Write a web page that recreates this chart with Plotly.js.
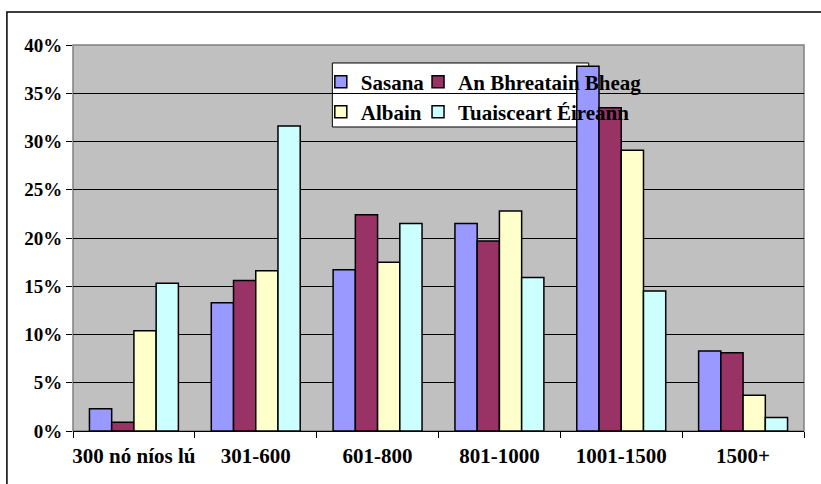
<!DOCTYPE html>
<html>
<head>
<meta charset="utf-8">
<script src="https://cdn.plot.ly/plotly-3.0.1.min.js"></script>
<style>html,body{margin:0;padding:0;background:#fff;}</style>
</head>
<body>
<div id="chart" style="width:821px;height:484px;"></div>
<script>
var categories = ['300 nó níos lú', '301-600', '601-800', '801-1000', '1001-1500', '1500+'];
var sasana = [2.3, 13.3, 16.7, 21.5, 37.8, 8.3];
var anBhreatainBheag = [0.9, 15.6, 22.4, 19.7, 33.5, 8.1];
var albain = [10.4, 16.6, 17.5, 22.8, 29.1, 3.7];
var tuaisceartEireann = [15.3, 31.6, 21.5, 15.9, 14.5, 1.4];
var yTicks = [0, 5, 10, 15, 20, 25, 30, 35, 40];

var names = ['Sasana', 'An Bhreatain Bheag', 'Albain', 'Tuaisceart Éireann'];
var colors = ['#9999FF', '#993366', '#FFFFCC', '#CCFFFF'];
var series = [sasana, anBhreatainBheag, albain, tuaisceartEireann];
var legendIds = ['legend', 'legend2', 'legend3', 'legend4'];

var font = '"Times New Roman", "Liberation Serif", serif';

var traces = series.map(function (vals, i) {
  return {
    type: 'bar',
    name: names[i],
    x: categories,
    y: vals,
    legend: legendIds[i],
    marker: {color: colors[i], line: {color: '#000000', width: 1.5}},
    hovertemplate: '%{x}: %{y}%<extra>' + names[i] + '</extra>'
  };
});

function legendAt(x, y) {
  return {
    orientation: 'h',
    xref: 'paper', yref: 'paper',
    x: x, y: y,
    xanchor: 'left', yanchor: 'middle',
    bgcolor: 'rgba(0,0,0,0)',
    borderwidth: 0,
    font: {family: font, size: 21, color: '#000000', weight: 'bold'},
    itemclick: false, itemdoubleclick: false
  };
}

var layout = {
  width: 821, height: 484,
  margin: {l: 73, r: 17, t: 45, b: 53},
  paper_bgcolor: '#ffffff',
  plot_bgcolor: '#C0C0C0',
  barmode: 'group',
  bargap: 0.27,
  bargroupgap: 0,
  showlegend: true,
  legend: legendAt(0.339, 0.904),
  legend2: legendAt(0.472, 0.904),
  legend3: legendAt(0.339, 0.826),
  legend4: legendAt(0.472, 0.826),
  xaxis: {
    type: 'category',
    tickson: 'boundaries',
    tickangle: 0,
    ticks: 'outside', ticklen: 6, tickcolor: '#000000', tickwidth: 1,
    showline: true, linecolor: '#000000', linewidth: 1,
    showgrid: false,
    ticklabelstandoff: 6,
    tickfont: {family: font, size: 21, color: '#000000', weight: 'bold'}
  },
  yaxis: {
    range: [0, 40],
    tickvals: yTicks,
    ticktext: yTicks.map(function (v) { return v + '%'; }),
    ticks: 'outside', ticklen: 6, tickcolor: '#000000', tickwidth: 1,
    showline: false,
    showgrid: true, gridcolor: '#000000', gridwidth: 1,
    zeroline: false,
    tickfont: {family: font, size: 19, color: '#000000', weight: 'bold'}
  },
  shapes: [
    {type: 'rect', xref: 'paper', yref: 'paper', x0: 0, x1: 1, y0: 0, y1: 1,
     line: {color: '#808080', width: 1.5}, fillcolor: 'rgba(0,0,0,0)', layer: 'between'},
    {type: 'rect', xref: 'paper', yref: 'paper', x0: 0.3548, x1: 0.7055, y0: 0.7876, y1: 0.9534,
     line: {color: '#000000', width: 1}, fillcolor: '#ffffff', layer: 'between'},
    {type: 'rect', xref: 'paper', yref: 'paper', x0: -0.0904, x1: 1.037, y0: -0.179, y1: 1.0855,
     line: {color: '#000000', width: 1.5}, fillcolor: 'rgba(0,0,0,0)', layer: 'above'}
  ]
};

Plotly.newPlot('chart', traces, layout, {displayModeBar: false});
</script>
</body>
</html>
